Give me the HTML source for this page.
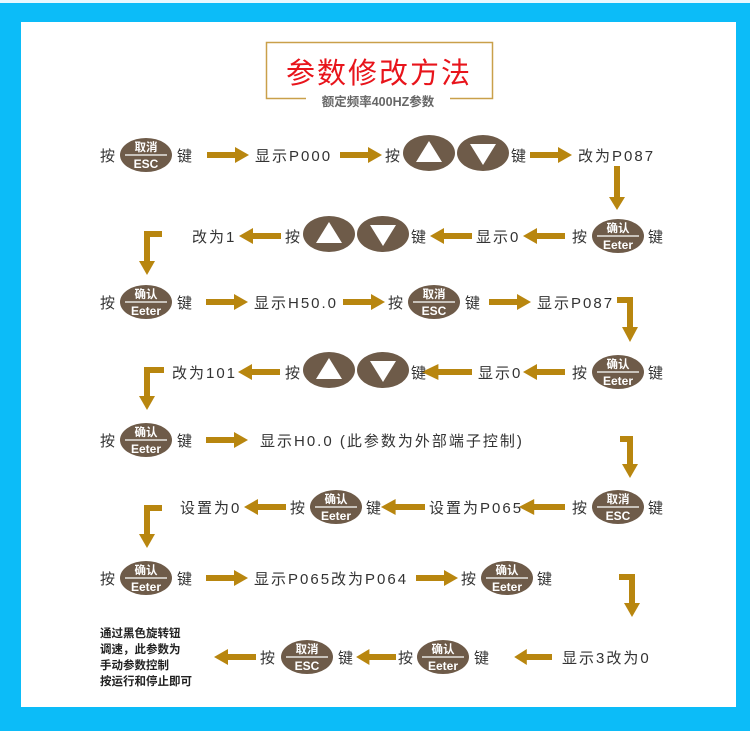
<!DOCTYPE html>
<html><head><meta charset="utf-8"><style>
body{margin:0;width:750px;height:731px;overflow:hidden;background:#0cbcf8}
svg{display:block}
.t{font-family:"Liberation Sans","Noto Sans CJK SC",sans-serif;font-size:15px;fill:#333;letter-spacing:2px}
.b1{font-family:"Liberation Sans","Noto Sans CJK SC",sans-serif;font-size:11.5px;fill:#fff;font-weight:bold;text-anchor:middle}
.b2{font-family:"Liberation Sans","Noto Sans CJK SC",sans-serif;font-size:12px;fill:#fff;font-weight:bold;text-anchor:middle}
.a{fill:#b8860f}
.h{fill:none;stroke:#b8860f;stroke-width:6}
.s{font-family:"Liberation Sans","Noto Sans CJK SC",sans-serif;font-size:11.5px;fill:#222;font-weight:bold}
</style></head><body>
<svg width="750" height="731" viewBox="0 0 750 731">
<defs>
<polygon id="ar" points="0,-3 28,-3 28,-8 42,0 28,8 28,3 0,3"/>
</defs>
<rect x="0" y="0" width="750" height="3" fill="#e8f8ff"/>
<rect x="21" y="22" width="715" height="685" fill="#fff"/>
<rect x="266.5" y="42.5" width="226" height="56" fill="none" stroke="#c9a04a" stroke-width="1.5"/>
<text x="379" y="83" text-anchor="middle" font-family="Liberation Sans,Noto Sans CJK SC,sans-serif" font-size="29" fill="#e8141b" letter-spacing="2">参数修改方法</text>
<rect x="306" y="92" width="144" height="16" fill="#fff"/>
<text x="378" y="106" text-anchor="middle" font-family="Liberation Sans,Noto Sans CJK SC,sans-serif" font-size="12.5" fill="#666" font-weight="bold">额定频率400HZ参数</text>

<text class="t" x="100" y="161">按</text>
<g transform="translate(146,155)"><ellipse rx="26" ry="17" fill="#6e5b49"/><line x1="-21" x2="21" y1="0" y2="0" stroke="#fff" stroke-width="1.3"/><text class="b1" y="-4">取消</text><text class="b2" y="13">ESC</text></g>
<text class="t" x="177" y="161">键</text>
<use href="#ar" class="a" transform="translate(207,155)"/>
<text class="t" x="255" y="161">显示P000</text>
<use href="#ar" class="a" transform="translate(340,155)"/>
<text class="t" x="385" y="161">按</text>
<g transform="translate(429,153)"><ellipse rx="26" ry="18" fill="#6e5b49"/><polygon points="0,-12 13,9 -13,9" fill="#fff"/></g>
<g transform="translate(483,153)"><ellipse rx="26" ry="18" fill="#6e5b49"/><polygon points="0,12 13,-9 -13,-9" fill="#fff"/></g>
<text class="t" x="511" y="161">键</text>
<use href="#ar" class="a" transform="translate(530,155)"/>
<text class="t" x="578" y="161">改为P087</text>
<path class="h" d="M617 166 V198"/><polygon class="a" points="609,197 625,197 617,210"/>

<text class="t" x="572" y="242">按</text>
<g transform="translate(618,236)"><ellipse rx="26" ry="17" fill="#6e5b49"/><line x1="-21" x2="21" y1="0" y2="0" stroke="#fff" stroke-width="1.3"/><text class="b1" y="-4">确认</text><text class="b2" y="13">Eeter</text></g>
<text class="t" x="648" y="242">键</text>
<use href="#ar" class="a" transform="translate(565,236) scale(-1,1)"/>
<text class="t" x="476" y="242">显示0</text>
<use href="#ar" class="a" transform="translate(472,236) scale(-1,1)"/>
<text class="t" x="411" y="242">键</text>
<g transform="translate(329,234)"><ellipse rx="26" ry="18" fill="#6e5b49"/><polygon points="0,-12 13,9 -13,9" fill="#fff"/></g>
<g transform="translate(383,234)"><ellipse rx="26" ry="18" fill="#6e5b49"/><polygon points="0,12 13,-9 -13,-9" fill="#fff"/></g>
<text class="t" x="285" y="242">按</text>
<use href="#ar" class="a" transform="translate(281,236) scale(-1,1)"/>
<text class="t" x="192" y="242">改为1</text>
<path class="h" d="M162 234 H147 V262"/><polygon class="a" points="139,261 155,261 147,275"/>

<text class="t" x="100" y="308">按</text>
<g transform="translate(146,302)"><ellipse rx="26" ry="17" fill="#6e5b49"/><line x1="-21" x2="21" y1="0" y2="0" stroke="#fff" stroke-width="1.3"/><text class="b1" y="-4">确认</text><text class="b2" y="13">Eeter</text></g>
<text class="t" x="177" y="308">键</text>
<use href="#ar" class="a" transform="translate(206,302)"/>
<text class="t" x="254" y="308">显示H50.0</text>
<use href="#ar" class="a" transform="translate(343,302)"/>
<text class="t" x="388" y="308">按</text>
<g transform="translate(434,302)"><ellipse rx="26" ry="17" fill="#6e5b49"/><line x1="-21" x2="21" y1="0" y2="0" stroke="#fff" stroke-width="1.3"/><text class="b1" y="-4">取消</text><text class="b2" y="13">ESC</text></g>
<text class="t" x="465" y="308">键</text>
<use href="#ar" class="a" transform="translate(489,302)"/>
<text class="t" x="537" y="308">显示P087</text>
<path class="h" d="M617 300 H630 V328"/><polygon class="a" points="622,327 638,327 630,342"/>

<text class="t" x="572" y="378">按</text>
<g transform="translate(618,372)"><ellipse rx="26" ry="17" fill="#6e5b49"/><line x1="-21" x2="21" y1="0" y2="0" stroke="#fff" stroke-width="1.3"/><text class="b1" y="-4">确认</text><text class="b2" y="13">Eeter</text></g>
<text class="t" x="648" y="378">键</text>
<use href="#ar" class="a" transform="translate(565,372) scale(-1,1)"/>
<text class="t" x="478" y="378">显示0</text>
<use href="#ar" class="a" transform="translate(472,372) scale(-1.2,1)"/>
<text class="t" x="411" y="378">键</text>
<g transform="translate(329,370)"><ellipse rx="26" ry="18" fill="#6e5b49"/><polygon points="0,-12 13,9 -13,9" fill="#fff"/></g>
<g transform="translate(383,370)"><ellipse rx="26" ry="18" fill="#6e5b49"/><polygon points="0,12 13,-9 -13,-9" fill="#fff"/></g>
<text class="t" x="285" y="378">按</text>
<use href="#ar" class="a" transform="translate(280,372) scale(-1,1)"/>
<text class="t" x="172" y="378">改为101</text>
<path class="h" d="M164 370 H147 V397"/><polygon class="a" points="139,396 155,396 147,410"/>

<text class="t" x="100" y="446">按</text>
<g transform="translate(146,440)"><ellipse rx="26" ry="17" fill="#6e5b49"/><line x1="-21" x2="21" y1="0" y2="0" stroke="#fff" stroke-width="1.3"/><text class="b1" y="-4">确认</text><text class="b2" y="13">Eeter</text></g>
<text class="t" x="177" y="446">键</text>
<use href="#ar" class="a" transform="translate(206,440)"/>
<text class="t" x="260" y="446">显示H0.0 (此参数为外部端子控制)</text>
<path class="h" d="M620 439 H630 V465"/><polygon class="a" points="622,464 638,464 630,478"/>

<text class="t" x="572" y="513">按</text>
<g transform="translate(618,507)"><ellipse rx="26" ry="17" fill="#6e5b49"/><line x1="-21" x2="21" y1="0" y2="0" stroke="#fff" stroke-width="1.3"/><text class="b1" y="-4">取消</text><text class="b2" y="13">ESC</text></g>
<text class="t" x="648" y="513">键</text>
<use href="#ar" class="a" transform="translate(565,507) scale(-1.1,1)"/>
<text class="t" x="429" y="513" letter-spacing="1">设置为P065</text>
<use href="#ar" class="a" transform="translate(425,507) scale(-1.05,1)"/>
<text class="t" x="366" y="513">键</text>
<g transform="translate(336,507)"><ellipse rx="26" ry="17" fill="#6e5b49"/><line x1="-21" x2="21" y1="0" y2="0" stroke="#fff" stroke-width="1.3"/><text class="b1" y="-4">确认</text><text class="b2" y="13">Eeter</text></g>
<text class="t" x="290" y="513">按</text>
<use href="#ar" class="a" transform="translate(286,507) scale(-1,1)"/>
<text class="t" x="180" y="513">设置为0</text>
<path class="h" d="M162 508 H147 V535"/><polygon class="a" points="139,534 155,534 147,548"/>

<text class="t" x="100" y="584">按</text>
<g transform="translate(146,578)"><ellipse rx="26" ry="17" fill="#6e5b49"/><line x1="-21" x2="21" y1="0" y2="0" stroke="#fff" stroke-width="1.3"/><text class="b1" y="-4">确认</text><text class="b2" y="13">Eeter</text></g>
<text class="t" x="177" y="584">键</text>
<use href="#ar" class="a" transform="translate(206,578)"/>
<text class="t" x="254" y="584" letter-spacing="1">显示P065改为P064</text>
<use href="#ar" class="a" transform="translate(416,578)"/>
<text class="t" x="461" y="584">按</text>
<g transform="translate(507,578)"><ellipse rx="26" ry="17" fill="#6e5b49"/><line x1="-21" x2="21" y1="0" y2="0" stroke="#fff" stroke-width="1.3"/><text class="b1" y="-4">确认</text><text class="b2" y="13">Eeter</text></g>
<text class="t" x="537" y="584">键</text>
<path class="h" d="M619 577 H632 V604"/><polygon class="a" points="624,603 640,603 632,617"/>

<text class="t" x="562" y="663" letter-spacing="1">显示3改为0</text>
<use href="#ar" class="a" transform="translate(552,657) scale(-0.9,1)"/>
<text class="t" x="474" y="663">键</text>
<g transform="translate(443,657)"><ellipse rx="26" ry="17" fill="#6e5b49"/><line x1="-21" x2="21" y1="0" y2="0" stroke="#fff" stroke-width="1.3"/><text class="b1" y="-4">确认</text><text class="b2" y="13">Eeter</text></g>
<text class="t" x="398" y="663">按</text>
<use href="#ar" class="a" transform="translate(396,657) scale(-0.95,1)"/>
<text class="t" x="338" y="663">键</text>
<g transform="translate(307,657)"><ellipse rx="26" ry="17" fill="#6e5b49"/><line x1="-21" x2="21" y1="0" y2="0" stroke="#fff" stroke-width="1.3"/><text class="b1" y="-4">取消</text><text class="b2" y="13">ESC</text></g>
<text class="t" x="260" y="663">按</text>
<use href="#ar" class="a" transform="translate(256,657) scale(-1,1)"/>
<text class="s" x="100" y="637">通过黑色旋转钮</text>
<text class="s" x="100" y="653">调速，此参数为</text>
<text class="s" x="100" y="669">手动参数控制</text>
<text class="s" x="100" y="685">按运行和停止即可</text>
</svg>
</body></html>
